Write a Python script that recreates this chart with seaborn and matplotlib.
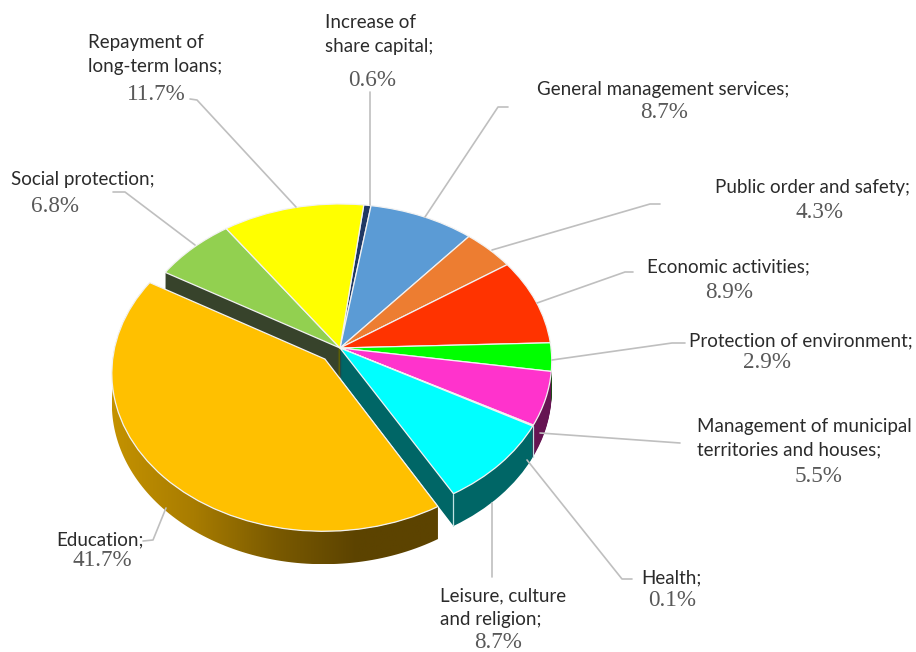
import numpy as np
import matplotlib
matplotlib.use('Agg')
import matplotlib.pyplot as plt
from matplotlib.patches import Polygon
from matplotlib.transforms import Transform
import seaborn as sns

# budget shares, clockwise from the thin slice at the top
categories = ['Increase of\nshare capital;', 'General management services;',
              'Public order and safety;', 'Economic activities;',
              'Protection of environment;',
              'Management of municipal\nterritories and houses;', 'Health;',
              'Leisure, culture\nand religion;', 'Education;',
              'Social protection;', 'Repayment of\nlong-term loans;']
shares = [0.6, 8.7, 4.3, 8.9, 2.9, 5.5, 0.1, 8.7, 41.7, 6.8, 11.7]
pulled_out = [0, 0, 0, 0, 0, 0, 0, 0, 0.1, 0, 0]
slice_colors = ['#1F3864', '#5B9BD5', '#ED7D31', '#FF3300', '#00FF00', '#FF33CC',
                '#7030A0', '#00FFFF', '#FFC000', '#92D050', '#FFFF00']

# label anchors in picture pixels: left edge / first line centre, then the percent centre
label_xy = [(325, 21), (537, 88), (715, 187), (647, 266), (689, 340), (697, 425),
            (641, 577), (440, 594), (56, 539), (11, 178), (88, 41)]
pct_xy = [(372, 81), (664, 113), (819, 212), (729, 292), (767, 363), (819, 476),
          (672, 600), (498, 642), (102, 561), (55, 206), (156, 94)]
leaders = [[(370, 92), (370, 205)],
           [(508, 107), (498, 107), (425, 217)],
           [(660, 204), (650, 204), (492, 250)],
           [(633, 272), (625, 272), (537, 303)],
           [(685, 343), (672, 343), (552, 360)],
           [(680, 443), (540, 433)],
           [(632, 579), (622, 579), (527, 460)],
           [(492, 577), (492, 503)],
           [(143, 541), (153, 540), (166, 508)],
           [(113, 192), (125, 192), (195, 245)],
           [(190, 99), (197, 100), (296, 207)]]

DEPTH = 30
START = 83


class Tilt(Transform):
    # unit pie -> picture pixels, with a bit of perspective so the front looks bigger
    input_dims = 2
    output_dims = 2

    def __init__(self, z=0):
        super().__init__()
        self.z = z

    def transform_non_affine(self, xy):
        xy = np.asarray(xy, dtype=float)
        w = 1 + 0.083 * xy[:, 1]
        return np.column_stack((340 + 211 * xy[:, 0] / w,
                                348 - (156 * xy[:, 1] - self.z) / w))


def draw_pie(ax, colors, z, zorder, **wedge_kw):
    wedges, _ = ax.pie(shares, explode=pulled_out, colors=colors, startangle=START,
                       counterclock=False, wedgeprops=wedge_kw)
    for w in wedges:
        w.set_transform(Tilt(z) + ax.transData)
        w.set_zorder(zorder)
    return wedges


def arc(wedge, z, n=120):
    t = np.radians(np.linspace(wedge.theta1, wedge.theta2, n))
    pts = np.column_stack((wedge.center[0] + wedge.r * np.cos(t),
                           wedge.center[1] + wedge.r * np.sin(t)))
    return Tilt(z).transform_non_affine(pts)


sns.set_theme(style='white')
fig, ax = plt.subplots(figsize=(9.16, 6.52), dpi=100)
fig.subplots_adjust(0, 0, 1, 1)

palette = sns.color_palette(slice_colors)
dark = [tuple(c * 0.4 for c in col) for col in palette]
dark[9] = tuple(c * 0.38 for c in sns.desaturate(palette[9], 0.5))

# side walls are a stack of the same pie, the education slice has its own wall below
edu = categories.index('Education;')
for z in range(DEPTH, 0, -1):
    layer = draw_pie(ax, dark, z, 1, linewidth=0)
    layer[edu].set_visible(False)

top = draw_pie(ax, palette, 0, 2, linewidth=0.9, edgecolor='#F2F2F2')
top[edu].set_zorder(6)

# gradient on the education wall
wall = np.vstack((arc(top[edu], 0), arc(top[edu], DEPTH)[::-1]))
grad = sns.blend_palette(['#C49200', '#A87C00', '#7A5A00', '#5C4300', '#5C4300'], 256)
img = ax.imshow(np.array(grad)[np.newaxis, :, :], aspect='auto', zorder=5,
                extent=(wall[:, 0].min(), wall[:, 0].max(), wall[:, 1].max(), wall[:, 1].min()))
clip = Polygon(wall, closed=True, transform=ax.transData, facecolor='none', edgecolor='none')
ax.add_patch(clip)
img.set_clip_path(clip)

# pale corners on the cyan wall
leisure = top[categories.index('Leisure, culture\nand religion;')]
for end in (0, -1):
    ax.plot([arc(leisure, 0)[end, 0], arc(leisure, DEPTH)[end, 0]],
            [arc(leisure, 0)[end, 1], arc(leisure, DEPTH)[end, 1]],
            color='#BFE3E3', lw=0.9, zorder=3)

for pts in leaders:
    xs, ys = zip(*pts)
    ax.plot(xs, ys, color='#BFBFBF', lw=1.2, zorder=7, solid_capstyle='round')

for name, value, (lx, ly), (px, py) in zip(categories, shares, label_xy, pct_xy):
    # two line labels are centred between their lines
    mid = ly + 12.5 * name.count('\n') + 1
    ax.text(lx, mid, name, ha='left', va='center', family='Lato', fontsize=13.5,
            color='#2B2B2B', linespacing=1.45)
    ax.text(px, py, f'{value}%', ha='center', va='center', family='Liberation Serif',
            fontsize=16.7, color='#595959')

ax.set_xlim(0, 916)
ax.set_ylim(652, 0)
ax.axis('off')
fig.savefig('out.png', dpi=100, facecolor='white')
